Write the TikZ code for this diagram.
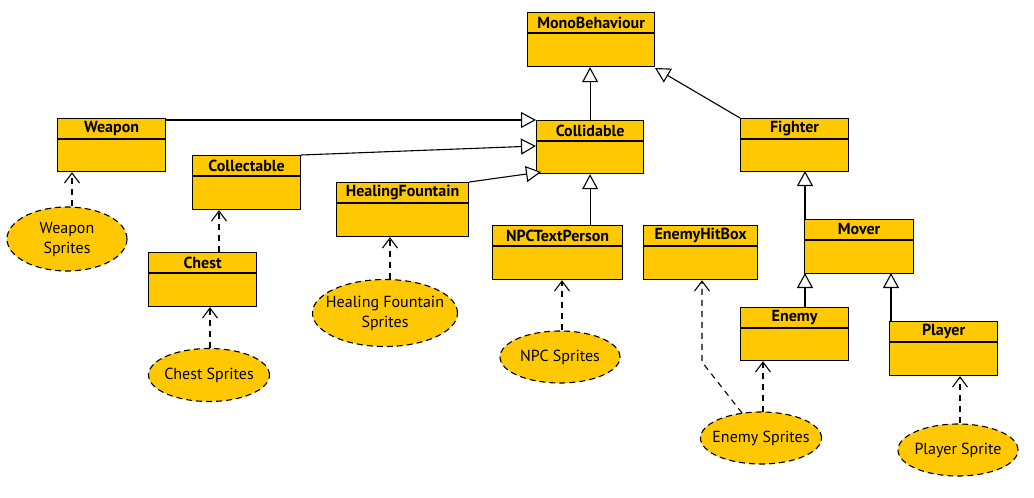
\documentclass[tikz,border=0pt]{standalone}
\usepackage{fontspec}
\setmainfont{PT Sans}
\usetikzlibrary{arrows.meta,calc,shapes.geometric}
\definecolor{umlyellow}{RGB}{255,200,0}
\tikzset{
  cls/.style={draw=black, fill=umlyellow, line width=1.2pt, rectangle, inner sep=0pt, anchor=north west},
  clstitle/.style={font=\fontsize{16}{18}\selectfont\bfseries, inner sep=0pt, anchor=center},
  sprite/.style={draw=black, fill=umlyellow, line width=1.1pt, ellipse, dash pattern=on 6pt off 4pt, inner sep=0pt},
  spritetext/.style={inner sep=0pt, align=center, font=\fontsize{16}{20}\selectfont},
  gen/.style={line width=1.1pt, -{Triangle[open, fill=white, length=15pt, width=16pt, line width=1.1pt]}},
  dep/.style={line width=1.1pt, dash pattern=on 6pt off 5pt, -{Straight Barb[length=10pt, width=15pt, line width=1.1pt]}},
}
\newcommand{\umlcls}[6]{%
  \node[cls, minimum width=#4pt, minimum height=#5pt] (#1) at (#2,#3) {};
  \draw[line width=1.1pt] ([yshift=-21pt]#1.north west) -- ([yshift=-21pt]#1.north east);
  \node[clstitle] (#1-t) at ([yshift=-10.5pt]#1.north) {#6};
}
\newcommand{\spritenode}[6]{%
  \node[sprite, minimum width=#4pt, minimum height=#5pt] (#1) at (#2,#3) {};
  \node[spritetext] (#1-t) at (#1.center) {#6};
}
\begin{document}
\begin{tikzpicture}[x=1pt, y=-1pt]
\useasboundingbox (0,0) rectangle (1034,498);
% classes: name, x, y (top-left), width, height
\umlcls{mono}{527}{12}{127}{54}{MonoBehaviour}
\umlcls{weapon}{57}{118}{108}{53}{Weapon}
\umlcls{collidable}{536}{120}{107}{53}{Collidable}
\umlcls{fighter}{740}{118}{108}{53}{Fighter}
\umlcls{collectable}{192}{155}{108}{54}{Collectable}
\umlcls{healing}{336}{182}{132}{54}{HealingFountain}
\umlcls{npc}{492}{225}{130}{54}{NPCTextPerson}
\umlcls{hitbox}{643}{225}{114}{54}{EnemyHitBox}
\umlcls{mover}{804}{219}{109}{54}{Mover}
\umlcls{chest}{148}{252}{108}{54}{Chest}
\umlcls{enemy}{740}{307}{108}{53}{Enemy}
\umlcls{player}{889}{321}{108}{54}{Player}
% sprites
\spritenode{wsp}{67}{239}{120}{64}{Weapon\\Sprites}
\spritenode{csp}{209}{375}{121}{53}{Chest Sprites}
\spritenode{hsp}{385}{313}{145}{67}{Healing Fountain\\Sprites}
\spritenode{nsp}{560}{357}{120}{52}{NPC Sprites}
\spritenode{esp}{761}{438}{121}{52}{Enemy Sprites}
\spritenode{psp}{958}{450}{120}{52}{Player Sprite}
% helper coordinates
\coordinate (c1) at (702,362);
% generalizations
\draw[gen] (collidable.north) -- (collidable.north |- mono.south);
\draw[gen] (fighter.north west) -- (655,68);
\draw[gen] (weapon.east |- 0,120) -- (collidable.west |- 0,120);
\draw[gen] (collectable.north east) -- (536,146);
\draw[gen] (healing.north east) -- (541,172);
\draw[gen] (npc.north -| collidable.north) -- (collidable.south);
\draw[gen] (mover.north west) ++(1,0) -- (805,171);
\draw[gen] (enemy.north -| 805,0) -- (805,273);
\draw[gen] (player.north west) ++(2,0) -- (891,273);
% dependencies
\draw[dep] (wsp.north -| 72,0) -- (weapon.south -| 72,0);
\draw[dep] (chest.north -| 219,0) -- (collectable.south -| 219,0);
\draw[dep] (csp.north -| 210,0) -- (chest.south -| 210,0);
\draw[dep] (hsp.north -| 390,0) -- (healing.south -| 390,0);
\draw[dep] (nsp.north -| 562,0) -- (npc.south -| 562,0);
\draw[dep] (742,413) -- (c1) -- (hitbox.south -| c1);
\draw[dep] (763,412) -- (enemy.south -| 763,0);
\draw[dep] (psp.north -| 960,0) -- (player.south -| 960,0);
\end{tikzpicture}
\end{document}
